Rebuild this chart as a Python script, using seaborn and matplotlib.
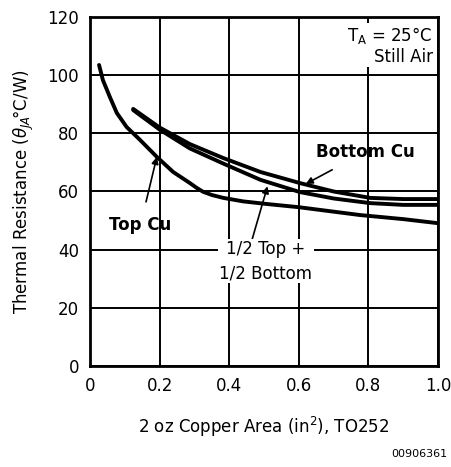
import matplotlib
matplotlib.use("Agg")
import matplotlib.pyplot as plt
import seaborn as sns
import pandas as pd

# Data
top_x = [0.026, 0.037, 0.057, 0.077, 0.105, 0.144, 0.192, 0.239, 0.287, 0.307,
         0.325, 0.35, 0.383, 0.44, 0.508, 0.60, 0.776, 0.90, 1.0]
top_y = [103.5, 98.3, 92.5, 87.0, 82.2, 77.7, 71.9, 66.7, 62.9, 61.2,
         59.9, 58.8, 57.8, 56.6, 55.7, 54.6, 51.9, 50.5, 49.1]
bot_x = [0.124, 0.20, 0.287, 0.383, 0.49, 0.603, 0.70, 0.805, 0.90, 1.0]
bot_y = [88.4, 82.0, 76.3, 71.5, 66.7, 62.9, 60.0, 57.8, 57.4, 57.4]
half_x = [0.124, 0.20, 0.287, 0.383, 0.49, 0.603, 0.70, 0.805, 0.90, 1.0]
half_y = [88.0, 81.3, 74.8, 69.6, 64.0, 59.8, 57.6, 56.0, 55.4, 55.4]
x_ticks = [0, 0.2, 0.4, 0.6, 0.8, 1.0]
x_tick_labels = ["0", "0.2", "0.4", "0.6", "0.8", "1.0"]
y_ticks = [0, 20, 40, 60, 80, 100, 120]

df = pd.concat([
    pd.DataFrame({"x": top_x, "y": top_y, "s": "Top Cu"}),
    pd.DataFrame({"x": bot_x, "y": bot_y, "s": "Bottom Cu"}),
    pd.DataFrame({"x": half_x, "y": half_y, "s": "Half"}),
])

sns.set_style("white")
plt.rcParams['font.family'] = ['DejaVu Sans']
plt.rcParams['text.color'] = 'black'
plt.rcParams['axes.labelcolor'] = 'black'
plt.rcParams['xtick.color'] = 'black'
plt.rcParams['ytick.color'] = 'black'

fig = plt.figure(figsize=(4.51, 4.67), dpi=100)
ax = fig.add_axes([0.1996, 0.2163, 0.7716, 0.7473])

sns.lineplot(data=df, x="x", y="y", hue="s", units="s", estimator=None,
             palette={"Top Cu": "black", "Bottom Cu": "black", "Half": "black"},
             linewidth=2.8, legend=False, ax=ax, sort=False, zorder=3)

ax.set_xlim(0, 1.0)
ax.set_ylim(0, 120)
ax.set_xticks(x_ticks)
ax.set_xticklabels(x_tick_labels)
ax.set_yticks(y_ticks)
ax.grid(True, color="black", linewidth=1.4)
ax.set_axisbelow(True)
for sp in ax.spines.values():
    sp.set_color("black")
    sp.set_linewidth(2)
ax.tick_params(axis="both", length=0, labelsize=12, pad=8, colors="black")
ax.set_xlabel("2 oz Copper Area (in$^2$), TO252", fontsize=12, labelpad=14)
ax.set_ylabel("Thermal Resistance ($\\theta_{JA}$$\\!$°C/W)", fontsize=12, labelpad=8)

# annotations
ax.text(0.985, 0.978, "T$_\\mathregular{A}$ = 25°C\nStill Air", transform=ax.transAxes,
        ha="right", va="top", fontsize=12, linespacing=1.2,
        bbox=dict(facecolor="white", edgecolor="none", pad=0.2), zorder=5)

ax.annotate("Top Cu", xy=(0.192, 71.9), xytext=(0.145, 48.5), fontsize=12,
            fontweight="bold", ha="center", va="center",
            arrowprops=dict(arrowstyle="-|>", color="black", lw=1.2,
                            shrinkA=8, shrinkB=0, mutation_scale=10),
            zorder=5)
ax.annotate("Bottom Cu", xy=(0.62, 62.6), xytext=(0.79, 73.5), fontsize=12,
            fontweight="bold", ha="center", va="center",
            arrowprops=dict(arrowstyle="-|>", color="black", lw=1.2,
                            shrinkA=8, shrinkB=0, mutation_scale=10),
            zorder=5)
ax.annotate("1/2 Top +\n1/2 Bottom", xy=(0.51, 61.8), xytext=(0.505, 36.0),
            fontsize=12, ha="center", va="center", linespacing=1.4,
            bbox=dict(facecolor="white", edgecolor="none", pad=1),
            arrowprops=dict(arrowstyle="-|>", color="black", lw=1.2,
                            shrinkA=0, shrinkB=0, mutation_scale=10,
                            relpos=(0.35, 1.0)),
            zorder=5)

fig.text(0.993, 0.018, "00906361", ha="right", va="bottom", fontsize=8)

fig.savefig("out.png", dpi=100)
